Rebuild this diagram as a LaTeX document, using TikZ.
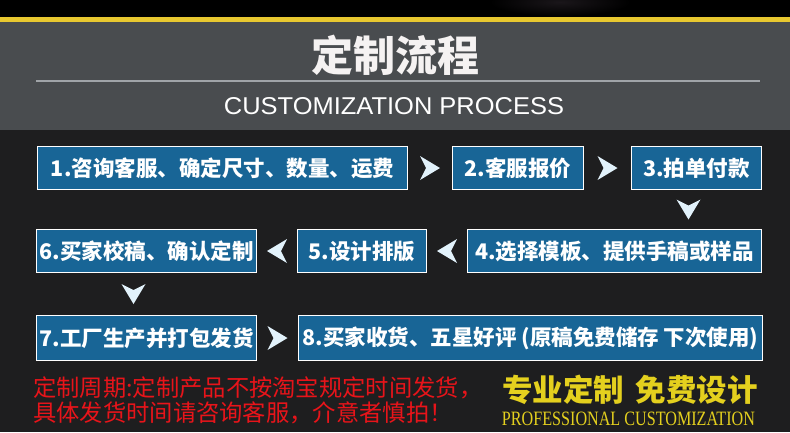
\documentclass[tikz,border=0pt]{standalone}
\usepackage{fontspec}
\usepackage{graphicx}
\usepackage{xcolor}
\usetikzlibrary{positioning}
\newfontfamily\cjkfont{Noto Sans CJK SC}
\newfontfamily\latinserif{Liberation Serif}
\newfontfamily\latinsans{Liberation Sans}
\definecolor{stripe}{RGB}{232,200,48}
\definecolor{headgray}{RGB}{73,76,79}
\definecolor{bgdark}{RGB}{30,30,31}
\definecolor{boxblue}{RGB}{24,101,150}
\definecolor{chevfill}{RGB}{226,242,251}
\definecolor{warnred}{RGB}{232,20,26}
\definecolor{slogan}{RGB}{228,208,30}
\definecolor{rulegray}{RGB}{160,164,168}
\tikzset{
  stepbox/.style={draw=white, line width=1pt, fill=boxblue, text=white,
    font=\cjkfont\bfseries\fontsize{21.5}{24}\selectfont,
    minimum height=43pt, inner sep=0pt, anchor=north west},
  warntext/.style={text=warnred, font=\cjkfont\fontsize{23.3}{26}\selectfont,
    inner sep=0pt, anchor=west},
  chev/.pic={\fill[chevfill] (10,0) -- (-10,-12) -- (-4,0) -- (-10,12) -- cycle;}
}
\begin{document}
\begin{tikzpicture}[x=1pt,y=-1pt]
  \useasboundingbox (0,0) rectangle (790,432);
  % background bands
  \fill[bgdark] (0,0) rectangle (790,432);
  \begin{scope}
    \clip (0,0) rectangle (790,17);
    \fill[black] (0,0) rectangle (790,17);
    \shade[inner color={rgb,255:red,26;green,22;blue,26}, outer color=black]
      (560,2) ellipse (70 and 14);
  \end{scope}
  \fill[stripe] (0,17) rectangle (790,22);
  \fill[headgray] (0,22) rectangle (790,130);
  % heading
  \node[text={rgb,255:red,245;green,242;blue,242}, font=\cjkfont\bfseries\fontsize{42}{46}\selectfont]
    (title) at (395,55) {定制流程};
  \draw[rulegray, line width=1.5pt] (36,81) -- (760,81);
  \node[text=white, inner sep=0pt] (subtitle) at (394,106.5)
    {\resizebox{340pt}{17pt}{\latinsans CUSTOMIZATION PROCESS}};
  % steps
  \node[stepbox, minimum width=370pt] (s1) at (37,146) {1.咨询客服、确定尺寸、数量、运费};
  \node[stepbox, minimum width=131pt] (s2) at (452,146) {2.客服报价};
  \node[stepbox, minimum width=130pt] (s3) at (631,146) {3.拍单付款};
  \node[stepbox, minimum width=294pt] (s4) at (467,229) {4.选择模板、提供手稿或样品};
  \node[stepbox, minimum width=129pt] (s5) at (297,229) {5.设计排版};
  \node[stepbox, minimum width=220pt] (s6) at (36,229) {6.买家校稿、确认定制};
  \node[stepbox, minimum width=220pt, minimum height=45pt] (s7) at (36,315) {7.工厂生产并打包发货};
  \node[stepbox, minimum width=464pt, minimum height=45pt] (s8) at (298,315)
    {8.买家收货、五星好评 (原稿免费储存 下次使用)};
  % arrows between steps
  \path (s1.east) -- (s2.west) pic[midway]{chev};
  \path (s2.east) -- (s3.west) pic[midway]{chev};
  \path (s3.south) -- (s3.south |- s4.north) pic[midway, xshift=-8pt, rotate=-90]{chev};
  \path (s4.west) -- (s5.east) pic[midway, rotate=180]{chev};
  \path (s5.west) -- (s6.east) pic[midway, rotate=180]{chev};
  \path (s6.south) -- (s7.north) pic[midway, xshift=-13pt, rotate=-90]{chev};
  \path (s7.east) -- (s8.west) pic[midway]{chev};
  % notes
  \node[warntext] (note1) at (33,388) {定制周期:定制产品不按淘宝规定时间发货，};
  \node[warntext] (note2) at (33,413) {具体发货时间请咨询客服，介意者慎拍！};
  \node[text=slogan, font=\cjkfont\bfseries\fontsize{30.5}{34}\selectfont, inner sep=0pt]
    (slogan) at (630,390) {专业定制\hspace{12pt}免费设计};
  \node[text=slogan, inner sep=0pt] (sloganen) at (628.5,418.5)
    {\resizebox{253pt}{13.5pt}{\latinserif PROFESSIONAL CUSTOMIZATION}};
\end{tikzpicture}
\end{document}
